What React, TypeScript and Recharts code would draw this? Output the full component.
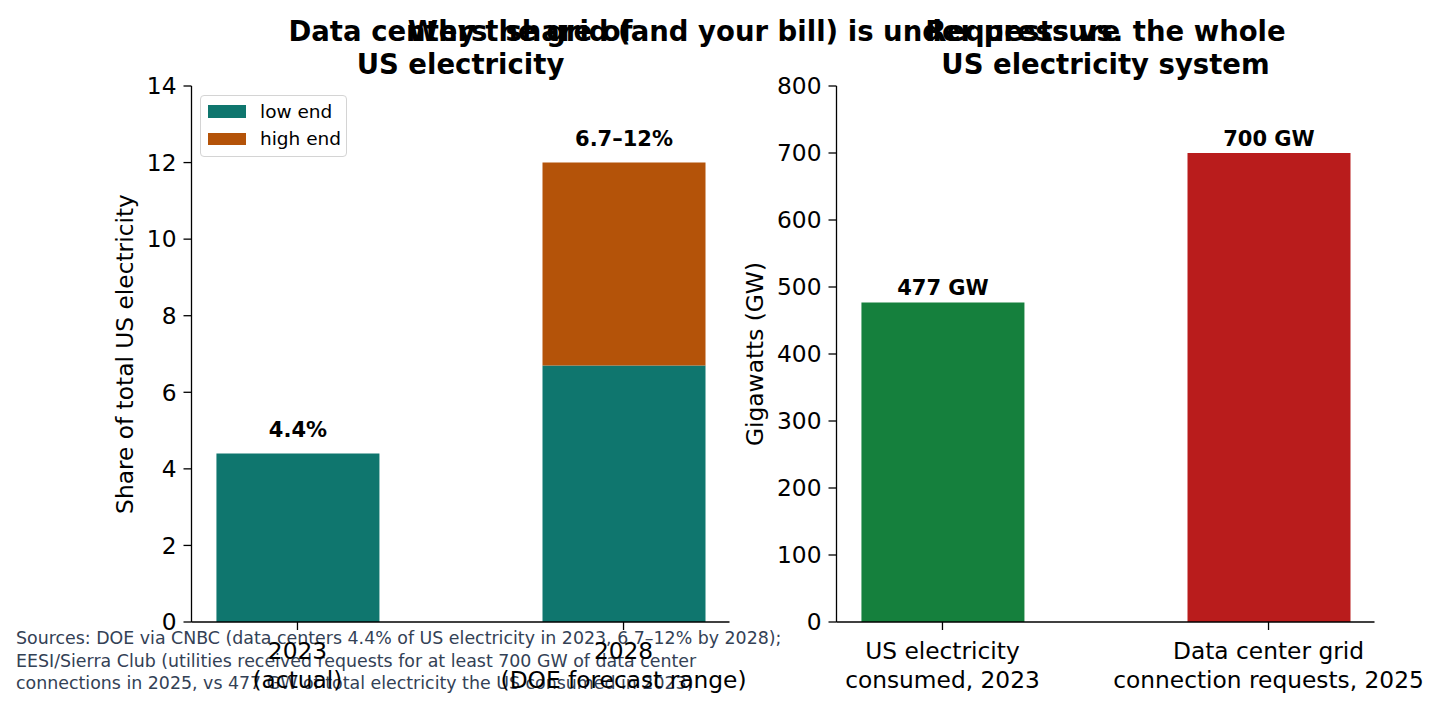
import React from "react";
import { BarChart, Bar, XAxis, YAxis, Legend, LabelList, Cell, Label } from "recharts";

const FONT = "DejaVu Sans, Verdana, sans-serif";

// left panel: data centers' share of US electricity (%)
const years = ["2023", "2028"];
const yearNotes = ["(actual)", "(DOE forecast range)"];
const lowEnd = [4.4, 6.7];
const highEnd = [0, 5.3]; // 6.7 -> 12
const shareLabels = ["4.4%", "6.7–12%"];
const shareTicks = [0, 2, 4, 6, 8, 10, 12, 14];
const seriesNames = ["low end", "high end"];
const seriesColors = ["#0f766e", "#b45309"];

// right panel: requests vs the whole system (GW)
const gwLines = [
  ["US electricity", "consumed, 2023"],
  ["Data center grid", "connection requests, 2025"],
];
const gwValues = [477, 700];
const gwLabels = ["477 GW", "700 GW"];
const gwColors = ["#15803d", "#b91c1c"];
const gwTicks = [0, 100, 200, 300, 400, 500, 600, 700, 800];

const sourceLines = [
  "Sources: DOE via CNBC (data centers 4.4% of US electricity in 2023, 6.7–12% by 2028);",
  "EESI/Sierra Club (utilities received requests for at least 700 GW of data center",
  "connections in 2025, vs 477 GW of total electricity the US consumed in 2023)",
];

// label goes on whichever segment is the top of the stack
const shareData = years.map((y, i) => ({
  pos: i,
  low: lowEnd[i],
  high: highEnd[i],
  lowLabel: highEnd[i] > 0 ? "" : shareLabels[i],
  highLabel: highEnd[i] > 0 ? shareLabels[i] : "",
}));

const gwData = gwValues.map((v, i) => ({ pos: i, gw: v, label: gwLabels[i] }));

const axisStroke = { stroke: "#000", strokeWidth: 1.3 };
const tickFont = { fill: "#000", fontSize: 23.3, fontFamily: FONT };

function MultiLineTick({ x, y, payload, lines }: any) {
  const rows: string[] = lines[payload.value] || [];
  return (
    <text x={x} y={y} textAnchor="middle" fontFamily={FONT} fontSize={23.3} fill="#000">
      {rows.map((r, i) => (
        <tspan key={i} x={x} y={y + 27 + i * 28.5}>
          {r}
        </tspan>
      ))}
    </text>
  );
}

function barTopLabel(offset: number) {
  return (props: any) => {
    const { x, y, width, value } = props;
    if (!value) return null;
    return (
      <text
        x={x + width / 2}
        y={y - offset}
        textAnchor="middle"
        fontFamily={FONT}
        fontWeight="bold"
        fontSize={21}
        fill="#000"
      >
        {value}
      </text>
    );
  };
}

function yLabel(text: string, shift: number) {
  return (props: any) => {
    const vb = props.viewBox;
    const cx = vb.x + vb.width - shift;
    const cy = vb.y + vb.height / 2;
    return (
      <text
        x={cx}
        y={cy}
        transform={`rotate(-90, ${cx}, ${cy})`}
        textAnchor="middle"
        dominantBaseline="central"
        fontFamily={FONT}
        fontSize={23.3}
        fill="#000"
      >
        {text}
      </text>
    );
  };
}

function ShareLegend() {
  return (
    <div
      style={{
        border: "1.3px solid #d4d4d4",
        borderRadius: 4,
        background: "rgba(255,255,255,0.8)",
        padding: "1.5px 6px 4.5px 7px",
        fontFamily: FONT,
        fontSize: 18.5,
        color: "#000",
        width: 147,
        height: 62,
        boxSizing: "border-box",
      }}
    >
      {seriesNames.map((n, i) => (
        <div key={n} style={{ display: "flex", alignItems: "center", height: 27.5, whiteSpace: "nowrap" }}>
          <span style={{ width: 38, height: 12.5, background: seriesColors[i], marginRight: 14, flex: "none" }} />
          <span>{n}</span>
        </div>
      ))}
    </div>
  );
}

export default function App() {
  const xDomain = [-0.325, 1.325];
  return (
    <div style={{ position: "absolute", left: 0, top: 0, width: 1440, height: 711, background: "#fff" }}>
      <svg width={1440} height={711} style={{ position: "absolute", left: 0, top: 0 }}>
        {sourceLines.map((s, i) => (
          <text key={i} x={16} y={644 + i * 22.5} fontFamily={FONT} fontSize={17.4} fill="#334155">
            {s}
          </text>
        ))}
      </svg>

      <div style={{ position: "absolute", left: 0, top: 0 }}>
        <BarChart
          width={780}
          height={711}
          data={shareData}
          margin={{ top: 86, right: 50.5, bottom: 29, left: 111.5 }}
          style={{ overflow: "visible" }}
        >
          <XAxis
            type="number"
            dataKey="pos"
            domain={xDomain}
            ticks={[0, 1]}
            allowDataOverflow
            height={60}
            axisLine={axisStroke}
            tickLine={axisStroke}
            tickSize={8}
            tick={<MultiLineTick lines={years.map((y, i) => [y, yearNotes[i]])} />}
            interval={0}
          />
          <YAxis
            type="number"
            domain={[0, 14]}
            ticks={shareTicks}
            width={80}
            axisLine={axisStroke}
            tickLine={axisStroke}
            tickSize={8}
            tickMargin={7}
            tick={tickFont}
            interval={0}
            label={<Label content={yLabel("Share of total US electricity", 67.5)} />}
          />
          <Legend
            layout="horizontal"
            verticalAlign="middle"
            align="center"
            wrapperStyle={{ left: 200, top: 95, width: 150 }}
            content={() => <ShareLegend />}
          />
          <Bar dataKey="low" stackId="a" name="low end" fill={seriesColors[0]} barSize={163} isAnimationActive={false}>
            <LabelList dataKey="lowLabel" content={barTopLabel(17)} />
          </Bar>
          <Bar dataKey="high" stackId="a" name="high end" fill={seriesColors[1]} barSize={163} isAnimationActive={false}>
            <LabelList dataKey="highLabel" content={barTopLabel(17)} />
          </Bar>
        </BarChart>
      </div>

      <div style={{ position: "absolute", left: 740, top: 0 }}>
        <BarChart
          width={700}
          height={711}
          data={gwData}
          margin={{ top: 86, right: 65.5, bottom: 29, left: 16.5 }}
          style={{ overflow: "visible" }}
        >
          <XAxis
            type="number"
            dataKey="pos"
            domain={xDomain}
            ticks={[0, 1]}
            allowDataOverflow
            height={60}
            axisLine={axisStroke}
            tickLine={axisStroke}
            tickSize={8}
            tick={<MultiLineTick lines={gwLines} />}
            interval={0}
          />
          <YAxis
            type="number"
            domain={[0, 800]}
            ticks={gwTicks}
            width={80}
            axisLine={axisStroke}
            tickLine={axisStroke}
            tickSize={8}
            tickMargin={7}
            tick={tickFont}
            interval={0}
            label={<Label content={yLabel("Gigawatts (GW)", 82.5)} />}
          />
          <Bar dataKey="gw" barSize={163} isAnimationActive={false}>
            {gwData.map((d, i) => (
              <Cell key={d.pos} fill={gwColors[i]} />
            ))}
            <LabelList dataKey="label" content={barTopLabel(7)} />
          </Bar>
        </BarChart>
      </div>

      <svg width={1440} height={90} style={{ position: "absolute", left: 0, top: 0 }}>
        <g fontFamily={FONT} fontWeight="bold" fontSize={27.5} fill="#000" textAnchor="middle">
          <text x={460.5} y={40.5}>Data centers' share of</text>
          <text x={460.5} y={73.5}>US electricity</text>
          <text x={1105.5} y={40.5}>Requests vs. the whole</text>
          <text x={1105.5} y={73.5}>US electricity system</text>
          <text x={764} y={40.5}>Why the grid (and your bill) is under pressure</text>
        </g>
      </svg>
    </div>
  );
}
